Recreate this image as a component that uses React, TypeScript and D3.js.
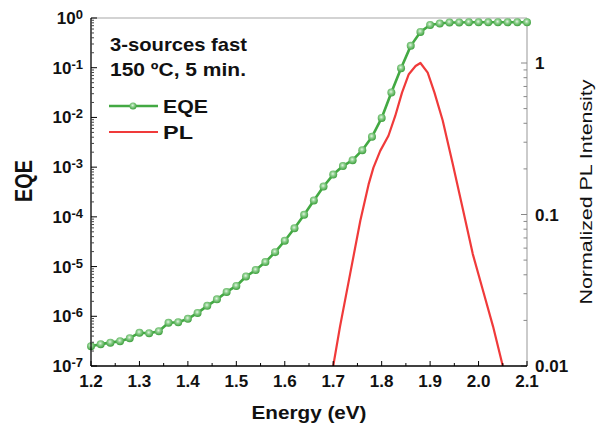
import React from "react";
import * as d3 from "d3";

const energies = [1.20, 1.22, 1.24, 1.26, 1.28, 1.30, 1.32, 1.34, 1.36, 1.38, 1.40, 1.42, 1.44, 1.46, 1.48, 1.50, 1.52, 1.54, 1.56, 1.58, 1.60, 1.62, 1.64, 1.66, 1.68, 1.70, 1.72, 1.74, 1.76, 1.78, 1.80, 1.82, 1.84, 1.86, 1.88, 1.90, 1.92, 1.94, 1.96, 1.98, 2.00, 2.02, 2.04, 2.06, 2.08, 2.10];
const eqe = [2.51e-7, 2.75e-7, 2.95e-7, 3.16e-7, 3.63e-7, 4.68e-7, 4.57e-7, 5.01e-7, 7.41e-7, 7.59e-7, 8.91e-7, 1.17e-6, 1.62e-6, 2.19e-6, 3.09e-6, 4.07e-6, 6.31e-6, 8.51e-6, 1.23e-5, 1.95e-5, 3.31e-5, 5.89e-5, 1.10e-4, 2.14e-4, 4.07e-4, 7.08e-4, 1.05e-3, 1.38e-3, 2.19e-3, 4.07e-3, 9.77e-3, 3.16e-2, 9.77e-2, 0.275, 0.525, 0.724, 0.776, 0.813, 0.813, 0.82, 0.82, 0.82, 0.82, 0.82, 0.82, 0.82];

const plEnergy = [1.700, 1.714, 1.735, 1.756, 1.773, 1.783, 1.797, 1.814, 1.828, 1.842, 1.856, 1.870, 1.880, 1.895, 1.909, 1.926, 1.947, 1.968, 1.988, 2.009, 2.030, 2.050];
const plIntensity = [0.01, 0.0182, 0.0407, 0.0912, 0.158, 0.204, 0.263, 0.331, 0.447, 0.638, 0.843, 0.955, 1.0, 0.863, 0.638, 0.417, 0.214, 0.107, 0.055, 0.0316, 0.0182, 0.01];

const xTicks = [1.2, 1.3, 1.4, 1.5, 1.6, 1.7, 1.8, 1.9, 2.0, 2.1];
const xMinorTicks = [1.25, 1.35, 1.45, 1.55, 1.65, 1.75, 1.85, 1.95, 2.05];
const leftExponents = [0, -1, -2, -3, -4, -5, -6, -7];
const rightTicks = [1, 0.1, 0.01];
const rightTickLabels = ["1", "0.1", "0.01"];

const W = 597, H = 427;
const L = 91, R = 527, T = 18, B = 366;
const FONT = "'Liberation Sans', Arial, sans-serif";
const GREEN = "#43a943";
const RED = "#f03a3a";

export default function App() {
  const x = d3.scaleLinear().domain([1.2, 2.1]).range([L, R]);
  const yL = d3.scaleLog().domain([1e-7, 1]).range([B, T]);
  const yR = d3.scaleLog().domain([0.01, 1]).range([B, 63]);

  const eqeData = energies.map((e, i) => [e, eqe[i]] as [number, number]);
  const plData = plEnergy.map((e, i) => [e, plIntensity[i]] as [number, number]);

  const eqeLine = d3.line<[number, number]>().x(d => x(d[0])).y(d => yL(d[1]))(eqeData) || "";
  const plLine = d3.line<[number, number]>().x(d => x(d[0])).y(d => yR(d[1]))(plData) || "";

  const leftMinor: number[] = [];
  for (let k = -7; k < 0; k++) for (let m = 2; m <= 9; m++) leftMinor.push(m * Math.pow(10, k));
  const rightMinor: number[] = [];
  for (let k = -2; k <= 0; k++) for (let m = 2; m <= 9; m++) {
    const v = m * Math.pow(10, k);
    if (yR(v) >= T) rightMinor.push(v);
  }

  return (
    <svg width={W} height={H} style={{ position: "absolute", left: 0, top: 0, background: "#fff" }} fontFamily={FONT}>
      <defs>
        <radialGradient id="ball" cx="45%" cy="40%" r="60%">
          <stop offset="0%" stopColor="#e4f5e4" />
          <stop offset="40%" stopColor="#8fd08f" />
          <stop offset="100%" stopColor="#3c9f3c" />
        </radialGradient>
        <clipPath id="plot">
          <rect x={L} y={T} width={R - L} height={B - T} />
        </clipPath>
      </defs>

      {/* frame */}
      <line x1={L} y1={T} x2={R} y2={T} stroke="#a8a8a8" strokeWidth={1.2} />
      <line x1={R} y1={T} x2={R} y2={B} stroke="#a8a8a8" strokeWidth={1.2} />

      {/* right axis ticks */}
      {rightTicks.map(v => (
        <line key={"rt" + v} x1={R - 6} x2={R} y1={yR(v)} y2={yR(v)} stroke="#888" strokeWidth={1} />
      ))}
      {rightMinor.map(v => (
        <line key={"rm" + v} x1={R - 3.5} x2={R} y1={yR(v)} y2={yR(v)} stroke="#888" strokeWidth={1} />
      ))}
      {rightTicks.map((v, i) => (
        <text key={"rl" + v} x={535} y={yR(v) + 6} fontSize={17} fontWeight="bold" fill="#111">{rightTickLabels[i]}</text>
      ))}

      {/* curves */}
      <g clipPath="url(#plot)">
        <path d={plLine} fill="none" stroke={RED} strokeWidth={2.2} strokeLinejoin="round" />
        <path d={eqeLine} fill="none" stroke={GREEN} strokeWidth={2.6} strokeLinejoin="round" />
      </g>
      {eqeData.map((d, i) => (
        <circle key={"m" + i} cx={x(d[0])} cy={yL(d[1])} r={4} fill="url(#ball)" />
      ))}

      {/* left axis */}
      <line x1={L} y1={T} x2={L} y2={B} stroke="#000" strokeWidth={1.3} />
      {leftExponents.map(k => (
        <line key={"lt" + k} x1={L} x2={L + 6} y1={yL(Math.pow(10, k))} y2={yL(Math.pow(10, k))} stroke="#000" strokeWidth={1} />
      ))}
      {leftMinor.map((v, i) => (
        <line key={"lm" + i} x1={L} x2={L + 3} y1={yL(v)} y2={yL(v)} stroke="#444" strokeWidth={1} />
      ))}
      {leftExponents.map(k => (
        <text key={"ll" + k} x={83} y={yL(Math.pow(10, k)) + 6} textAnchor="end" fontSize={17} fontWeight="bold" fill="#111">
          10<tspan fontSize={13} dy={-5}>{String(k)}</tspan>
        </text>
      ))}

      {/* bottom axis */}
      <line x1={L} y1={B} x2={R} y2={B} stroke="#000" strokeWidth={1.3} />
      {xTicks.map(v => (
        <line key={"xt" + v} x1={x(v)} x2={x(v)} y1={B} y2={B - 5} stroke="#000" strokeWidth={1} />
      ))}
      {xMinorTicks.map(v => (
        <line key={"xm" + v} x1={x(v)} x2={x(v)} y1={B} y2={B - 3} stroke="#000" strokeWidth={1} />
      ))}
      {xTicks.map(v => (
        <text key={"xl" + v} x={x(v)} y={387} textAnchor="middle" fontSize={17} fontWeight="bold" fill="#111">{v.toFixed(1)}</text>
      ))}

      {/* axis titles */}
      <text x={(L + R) / 2} y={419} textAnchor="middle" fontSize={19} fontWeight="bold" fill="#111" textLength={115} lengthAdjust="spacingAndGlyphs">Energy (eV)</text>
      <text transform="translate(32,181) rotate(-90)" textAnchor="middle" fontSize={24} fontWeight="bold" fill="#111" textLength={42} lengthAdjust="spacingAndGlyphs">EQE</text>
      <text transform="translate(592,192) rotate(-90)" textAnchor="middle" fontSize={16} fill="#111" textLength={225} lengthAdjust="spacingAndGlyphs">Normalized PL Intensity</text>

      {/* annotation */}
      <text x={110} y={51} fontSize={19} fontWeight="bold" fill="#111" textLength={137} lengthAdjust="spacingAndGlyphs">3-sources fast</text>
      <text x={110} y={76} fontSize={19} fontWeight="bold" fill="#111" textLength={136} lengthAdjust="spacingAndGlyphs">150 ºC, 5 min.</text>

      {/* legend */}
      <line x1={109} x2={158} y1={106} y2={106} stroke={GREEN} strokeWidth={2.6} />
      <circle cx={133} cy={106} r={3.5} fill="url(#ball)" />
      <text x={163} y={113} fontSize={19} fontWeight="bold" fill="#111" textLength={45} lengthAdjust="spacingAndGlyphs">EQE</text>
      <line x1={109} x2={158} y1={132} y2={132} stroke={RED} strokeWidth={2.2} />
      <text x={163} y={139} fontSize={19} fontWeight="bold" fill="#111" textLength={30} lengthAdjust="spacingAndGlyphs">PL</text>
    </svg>
  );
}
